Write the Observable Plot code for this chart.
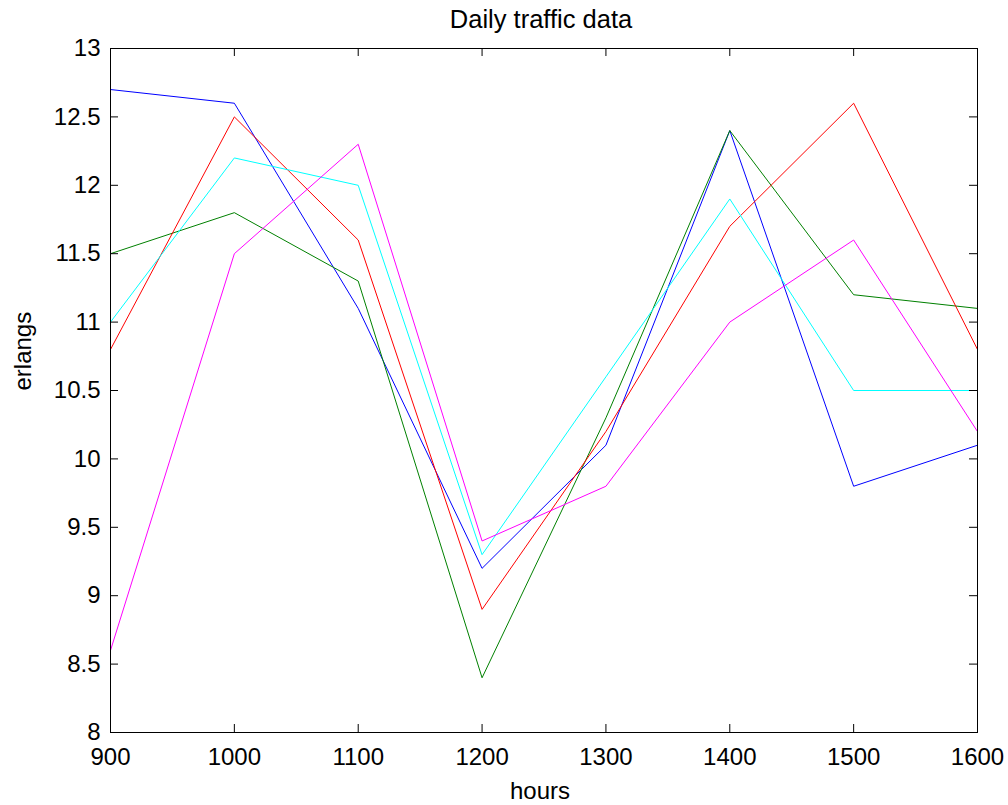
<!DOCTYPE html>
<html>
<head>
<meta charset="utf-8">
<script src="https://cdn.jsdelivr.net/npm/d3@7"></script>
<script src="https://cdn.jsdelivr.net/npm/@observablehq/plot@0.6"></script>
<style>
  html, body { margin: 0; padding: 0; background: #ffffff; }
</style>
</head>
<body>
<div id="chart"></div>
<script>
// ---- data ----
const hours = [900, 1000, 1100, 1200, 1300, 1400, 1500, 1600];
const seriesNames = ["blue", "green", "red", "cyan", "magenta"];
const seriesColors = ["#0000ff", "#008000", "#ff0000", "#00bfbf", "#bf00bf"];
const blueValues    = [12.7, 12.6, 11.1, 9.2, 10.1, 12.4, 9.8, 10.1];
const greenValues   = [11.5, 11.8, 11.3, 8.4, 10.3, 12.4, 11.2, 11.1];
const redValues     = [10.8, 12.5, 11.6, 8.9, 10.2, 11.7, 12.6, 10.8];
const cyanValues    = [11.0, 12.2, 12.0, 9.3, 10.6, 11.9, 10.5, 10.5];
const magentaValues = [8.6, 11.5, 12.3, 9.4, 9.8, 11.0, 11.6, 10.2];
const xTickValues = [900, 1000, 1100, 1200, 1300, 1400, 1500, 1600];
const yTickValues = [8, 8.5, 9, 9.5, 10, 10.5, 11, 11.5, 12, 12.5, 13];
const titleText = "Daily traffic data";
const xLabelText = "hours";
const yLabelText = "erlangs";

// ---- table built from the arrays ----
const seriesValues = [blueValues, greenValues, redValues, cyanValues, magentaValues];
const rows = [];
seriesNames.forEach((name, i) => {
  hours.forEach((h, j) => rows.push({series: name, hour: h, value: seriesValues[i][j]}));
});

// ---- layout ----
const W = 1008, H = 805;
const mL = 110, mR = 31, mT = 48, mB = 73;
const innerW = W - mL - mR, innerH = H - mT - mB;
const tickLen = 8;
const font = "'Liberation Sans', Arial, Helvetica, sans-serif";
const xMin = 900, xMax = 1600, yMin = 8, yMax = 13;

const chart = Plot.plot({
  width: W,
  height: H,
  marginLeft: mL,
  marginRight: mR,
  marginTop: mT,
  marginBottom: mB,
  style: {fontFamily: font, fontSize: "24px", background: "#ffffff", color: "#000000"},
  x: {domain: [xMin, xMax]},
  y: {domain: [yMin, yMax]},
  color: {domain: seriesNames, range: seriesColors},
  marks: [
    Plot.line(rows, {x: "hour", y: "value", z: "series", stroke: "series", strokeWidth: 1}),
    Plot.frame({stroke: "#000000", strokeWidth: 1}),
    // inward ticks, MATLAB style, on all four sides
    Plot.ruleX(xTickValues, {x: d => d, y1: yMax, y2: yMin, insetTop: innerH - tickLen, stroke: "#000000"}),
    Plot.ruleX(xTickValues, {x: d => d, y1: yMax, y2: yMin, insetBottom: innerH - tickLen, stroke: "#000000"}),
    Plot.ruleY(yTickValues, {y: d => d, x1: xMin, x2: xMax, insetRight: innerW - tickLen, stroke: "#000000"}),
    Plot.ruleY(yTickValues, {y: d => d, x1: xMin, x2: xMax, insetLeft: innerW - tickLen, stroke: "#000000"}),
    Plot.axisX(xTickValues, {tickSize: 0, tickPadding: 15, label: null, tickFormat: d => String(d), fontSize: 24, fill: "#000000"}),
    Plot.axisY(yTickValues, {tickSize: 0, tickPadding: 10, label: null, tickFormat: d => String(d), fontSize: 24, fill: "#000000"}),
    Plot.text([titleText], {text: d => d, frameAnchor: "top", dy: -21, dx: -3, lineAnchor: "bottom", fontSize: 25.5, fill: "#000000"}),
    Plot.text([xLabelText], {text: d => d, frameAnchor: "bottom", dy: 66, dx: -4, lineAnchor: "bottom", fontSize: 24, fill: "#000000"}),
    Plot.text([yLabelText], {text: d => d, frameAnchor: "left", dx: -80, rotate: -90, lineAnchor: "bottom", fontSize: 24, fill: "#000000"})
  ]
});
document.getElementById("chart").appendChild(chart);
</script>
</body>
</html>
